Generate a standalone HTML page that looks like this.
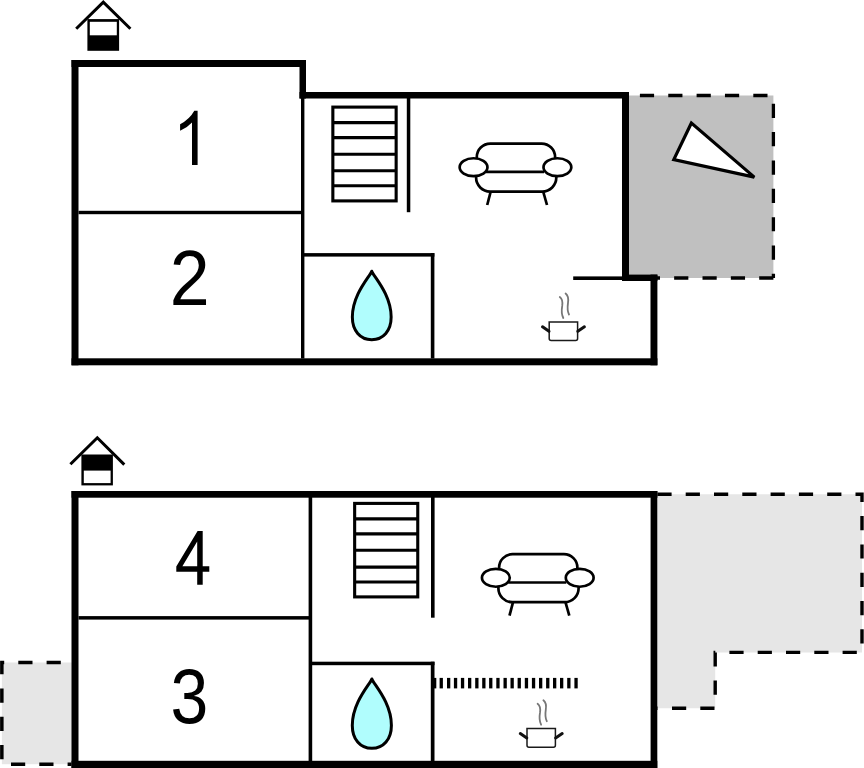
<!DOCTYPE html>
<html><head><meta charset="utf-8"><title>Floor plan</title>
<style>html,body{margin:0;padding:0;background:#fff;width:864px;height:768px;overflow:hidden;font-family:"Liberation Sans",sans-serif;}svg{display:block}</style>
</head><body>
<svg width="864" height="768" viewBox="0 0 864 768"><rect x="629.00" y="95.50" width="144.40" height="182.50" fill="#c0c0c0"/>
<polyline points="629,95.5 773.4,95.5 773.4,278" fill="none" stroke="#000" stroke-width="3.3" stroke-dasharray="14.2 14.15" stroke-dashoffset="17.45"/>
<polyline points="773.4,278 629,278" fill="none" stroke="#000" stroke-width="3.3" stroke-dasharray="14.2 14.15"/>
<polygon points="691.4,123 673.8,159.6 754.3,177.1" fill="#fff" stroke="#000" stroke-width="3.2" stroke-linejoin="miter"/>
<polygon points="657.4,494.3 862,494.3 862,652.4 715.2,652.4 715.2,708.2 657.4,708.2" fill="#e6e6e6"/>
<polyline points="657.4,494.3 862,494.3 862,652.4 715.2,652.4 715.2,708.2 657.4,708.2" fill="none" stroke="#000" stroke-width="3.4" stroke-dasharray="14.2 14.1"/>
<rect x="1.85" y="662.5" width="70" height="101.7" fill="#e6e6e6"/>
<polyline points="71.5,662.5 1.85,662.5 1.85,764.2 71.5,764.2" fill="none" stroke="#000" stroke-width="3.5" stroke-dasharray="14.2 14.1" stroke-dashoffset="17.6"/>
<rect x="71.50" y="60.00" width="234.50" height="7.00" fill="#000"/>
<rect x="299.50" y="60.00" width="6.50" height="38.50" fill="#000"/>
<rect x="299.50" y="92.00" width="329.50" height="6.50" fill="#000"/>
<rect x="622.00" y="92.00" width="7.00" height="189.00" fill="#000"/>
<rect x="622.00" y="274.60" width="35.40" height="6.40" fill="#000"/>
<rect x="650.50" y="274.60" width="6.90" height="90.70" fill="#000"/>
<rect x="71.50" y="358.30" width="585.90" height="7.00" fill="#000"/>
<rect x="71.50" y="60.00" width="7.00" height="305.30" fill="#000"/>
<rect x="301.00" y="98.00" width="3.40" height="260.50" fill="#000"/>
<rect x="78.50" y="210.80" width="222.50" height="3.40" fill="#000"/>
<rect x="304.00" y="253.10" width="130.40" height="3.50" fill="#000"/>
<rect x="430.80" y="253.10" width="3.60" height="105.40" fill="#000"/>
<rect x="406.80" y="98.00" width="3.50" height="114.20" fill="#000"/>
<rect x="573.20" y="276.40" width="48.80" height="3.60" fill="#000"/>
<rect x="71.50" y="491.00" width="585.90" height="6.70" fill="#000"/>
<rect x="71.50" y="491.00" width="7.00" height="277.00" fill="#000"/>
<rect x="650.60" y="491.00" width="6.70" height="277.00" fill="#000"/>
<rect x="71.50" y="760.80" width="585.80" height="7.20" fill="#000"/>
<rect x="308.60" y="497.00" width="3.60" height="264.00" fill="#000"/>
<rect x="78.50" y="616.10" width="231.50" height="3.50" fill="#000"/>
<rect x="431.00" y="497.00" width="3.60" height="120.70" fill="#000"/>
<rect x="312.00" y="661.70" width="122.50" height="3.50" fill="#000"/>
<rect x="430.80" y="661.70" width="3.70" height="99.30" fill="#000"/>
<rect x="332.85" y="107.10" width="63.30" height="93.80" fill="none" stroke="#000" stroke-width="3.1"/><line x1="332.85" y1="122.60" x2="396.15" y2="122.60" stroke="#000" stroke-width="3.1"/><line x1="332.85" y1="137.60" x2="396.15" y2="137.60" stroke="#000" stroke-width="3.1"/><line x1="332.85" y1="154.30" x2="396.15" y2="154.30" stroke="#000" stroke-width="3.1"/><line x1="332.85" y1="170.80" x2="396.15" y2="170.80" stroke="#000" stroke-width="3.1"/><line x1="332.85" y1="185.70" x2="396.15" y2="185.70" stroke="#000" stroke-width="3.1"/>
<rect x="354.65" y="503.40" width="63.10" height="93.50" fill="none" stroke="#000" stroke-width="3.1"/><line x1="354.65" y1="518.90" x2="417.75" y2="518.90" stroke="#000" stroke-width="3.1"/><line x1="354.65" y1="533.90" x2="417.75" y2="533.90" stroke="#000" stroke-width="3.1"/><line x1="354.65" y1="550.30" x2="417.75" y2="550.30" stroke="#000" stroke-width="3.1"/><line x1="354.65" y1="567.10" x2="417.75" y2="567.10" stroke="#000" stroke-width="3.1"/><line x1="354.65" y1="582.00" x2="417.75" y2="582.00" stroke="#000" stroke-width="3.1"/>
<g transform="translate(0,0)" fill="none" stroke="#000" stroke-width="2.7" stroke-linecap="butt"><path d="M476.8,158 L476.8,157.1 A13.5,13.5 0 0 1 490.3,143.6 L541.6,143.6 A13.5,13.5 0 0 1 555.1,157.1 L555.1,158"/><line x1="486" y1="171.9" x2="544" y2="171.9"/><path d="M476.1,176 L476.1,177.6 A14,14 0 0 0 490.1,191.6 L542.3,191.6 A14,14 0 0 0 556.3,177.6 L556.3,176"/><ellipse cx="473.55" cy="167.2" rx="13.9" ry="8.95" fill="#fff"/><ellipse cx="557.4" cy="167.2" rx="13.9" ry="8.95" fill="#fff"/><line x1="490.6" y1="192" x2="487.2" y2="205"/><line x1="543.3" y1="192" x2="547.0" y2="205"/></g>
<g transform="translate(22.3,410.6)" fill="none" stroke="#000" stroke-width="2.7" stroke-linecap="butt"><path d="M476.8,158 L476.8,157.1 A13.5,13.5 0 0 1 490.3,143.6 L541.6,143.6 A13.5,13.5 0 0 1 555.1,157.1 L555.1,158"/><line x1="486" y1="171.9" x2="544" y2="171.9"/><path d="M476.1,176 L476.1,177.6 A14,14 0 0 0 490.1,191.6 L542.3,191.6 A14,14 0 0 0 556.3,177.6 L556.3,176"/><ellipse cx="473.55" cy="167.2" rx="13.9" ry="8.95" fill="#fff"/><ellipse cx="557.4" cy="167.2" rx="13.9" ry="8.95" fill="#fff"/><line x1="490.6" y1="192" x2="487.2" y2="205"/><line x1="543.3" y1="192" x2="547.0" y2="205"/></g>
<path d="M371.75,271.20 C373.35,276.20 391.15,294.15 391.15,317.09 C391.15,330.66 383.39,339.70 371.75,339.70 C360.11,339.70 352.35,330.66 352.35,317.09 C352.35,294.15 370.15,276.20 371.75,271.20 Z" fill="#b0fdfd" stroke="#000" stroke-width="3" stroke-linejoin="round"/>
<path d="M371.85,679.00 C373.45,684.00 391.40,702.22 391.40,725.43 C391.40,739.15 383.58,748.30 371.85,748.30 C360.12,748.30 352.30,739.15 352.30,725.43 C352.30,702.22 370.25,684.00 371.85,679.00 Z" fill="#b0fdfd" stroke="#000" stroke-width="3" stroke-linejoin="round"/>
<g transform="translate(0,0)"><path d="M549.2,321.9 L577.6,321.9 L577.6,338.6 Q577.6,340.6 575.6,340.6 L551.2,340.6 Q549.2,340.6 549.2,338.6 Z" fill="#fff" stroke="#1a1a1a" stroke-width="1.5"/><line x1="542.5" y1="326.8" x2="549" y2="331.3" stroke="#111" stroke-width="3" stroke-linecap="round"/><line x1="577.8" y1="331.3" x2="584.4" y2="326.8" stroke="#111" stroke-width="3" stroke-linecap="round"/><path d="M559.8,297 C562.5,299 562.8,302 562.2,306 C561.5,310 561.3,314 563.3,318" fill="none" stroke="#777" stroke-width="1.8" stroke-linecap="round"/><path d="M565.6,293.5 C568.2,295.5 568.6,299 568,303 C567.4,307 567.2,311 569,314.5" fill="none" stroke="#777" stroke-width="1.8" stroke-linecap="round"/></g>
<g transform="translate(-22.2,406.7)"><path d="M549.2,321.9 L577.6,321.9 L577.6,338.6 Q577.6,340.6 575.6,340.6 L551.2,340.6 Q549.2,340.6 549.2,338.6 Z" fill="#fff" stroke="#1a1a1a" stroke-width="1.5"/><line x1="542.5" y1="326.8" x2="549" y2="331.3" stroke="#111" stroke-width="3" stroke-linecap="round"/><line x1="577.8" y1="331.3" x2="584.4" y2="326.8" stroke="#111" stroke-width="3" stroke-linecap="round"/><path d="M559.8,297 C562.5,299 562.8,302 562.2,306 C561.5,310 561.3,314 563.3,318" fill="none" stroke="#777" stroke-width="1.8" stroke-linecap="round"/><path d="M565.6,293.5 C568.2,295.5 568.6,299 568,303 C567.4,307 567.2,311 569,314.5" fill="none" stroke="#777" stroke-width="1.8" stroke-linecap="round"/></g>
<rect x="433.50" y="677.90" width="2.80" height="10.50" fill="#000"/>
<rect x="439.60" y="677.90" width="3.30" height="10.50" fill="#000"/>
<rect x="447.00" y="677.90" width="3.30" height="10.50" fill="#000"/>
<rect x="453.90" y="677.90" width="3.30" height="10.50" fill="#000"/>
<rect x="460.90" y="677.90" width="3.30" height="10.50" fill="#000"/>
<rect x="468.00" y="677.90" width="3.30" height="10.50" fill="#000"/>
<rect x="475.20" y="677.90" width="3.30" height="10.50" fill="#000"/>
<rect x="482.20" y="677.90" width="3.30" height="10.50" fill="#000"/>
<rect x="489.10" y="677.90" width="3.30" height="10.50" fill="#000"/>
<rect x="496.30" y="677.90" width="3.30" height="10.50" fill="#000"/>
<rect x="503.50" y="677.90" width="3.30" height="10.50" fill="#000"/>
<rect x="510.50" y="677.90" width="3.30" height="10.50" fill="#000"/>
<rect x="517.60" y="677.90" width="3.30" height="10.50" fill="#000"/>
<rect x="524.80" y="677.90" width="3.30" height="10.50" fill="#000"/>
<rect x="531.90" y="677.90" width="3.30" height="10.50" fill="#000"/>
<rect x="539.00" y="677.90" width="3.30" height="10.50" fill="#000"/>
<rect x="546.10" y="677.90" width="3.30" height="10.50" fill="#000"/>
<rect x="553.00" y="677.90" width="3.30" height="10.50" fill="#000"/>
<rect x="560.00" y="677.90" width="3.30" height="10.50" fill="#000"/>
<rect x="567.20" y="677.90" width="3.30" height="10.50" fill="#000"/>
<rect x="574.40" y="677.90" width="3.30" height="10.50" fill="#000"/>
<polyline points="76.2,28.7 103.3,2.2 130.4,28.7" fill="none" stroke="#000" stroke-width="3"/>
<rect x="87.40" y="19.10" width="31.70" height="31.70" fill="#000"/>
<rect x="89.80" y="21.80" width="27.00" height="13.50" fill="#fff"/>
<polyline points="70.4,464.3 97.3,437.8 124.3,464.6" fill="none" stroke="#000" stroke-width="3"/>
<rect x="81.40" y="454.50" width="31.50" height="30.90" fill="#000"/>
<rect x="83.80" y="470.60" width="26.80" height="12.50" fill="#fff"/>
<path d="M197.6,110.8 L194.3,110.8 Q189.5,119.5 180.1,124.2 L180.1,130.8 Q187,127.8 192,122.4 L192,165.1 L197.6,165.1 Z" fill="#000"/>
<text font-family="Liberation Sans" font-size="78" transform="translate(169.7,305.2) scale(0.92,1)" x="0" y="0">2</text>
<path fill-rule="evenodd" fill="#000" d="M197.6,531.1 L202.7,531.1 L202.7,566.3 L209.3,566.3 L209.3,571.75 L202.7,571.75 L202.7,584.7 L197.2,584.7 L197.2,571.75 L176.3,571.75 L176.3,566.4 Z M197.2,541.4 L197.2,566.3 L182.4,566.3 Z"/>
<text font-family="Liberation Sans" font-size="78" transform="translate(170.6,723.2) scale(0.87,1)" x="0" y="0">3</text></svg>
</body></html>
